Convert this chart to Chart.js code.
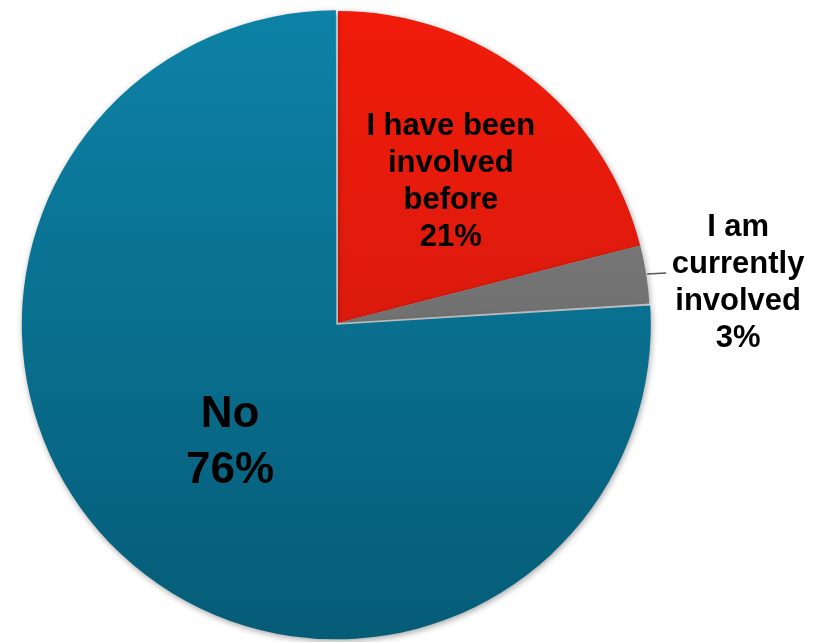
<!DOCTYPE html>
<html>
<head>
<meta charset="utf-8">
<script src="https://cdn.jsdelivr.net/npm/chart.js@4"></script>
<style>
  html, body { margin: 0; padding: 0; background: #fff; overflow: hidden; }
  #wrap { position: absolute; left: 0; top: 0; width: 827px; height: 660px; }
</style>
</head>
<body>
<div id="wrap"><canvas id="c" width="827" height="660"></canvas></div>
<script>
const categories = ['I have been involved before', 'I am currently involved', 'No'];
const values = [21, 3, 76];
const labelLines = [['I have been', 'involved', 'before'], ['I am', 'currently', 'involved'], ['No']];
const percentLabels = ['21%', '3%', '76%'];

const topColors = ['#f21b0a', '#858585', '#0d82a6'];
const bottomColors = ['#c41a10', '#5c5c5c', '#055c77'];

function sliceFill(ctx) {
  const chart = ctx.chart;
  const area = chart.chartArea;
  if (!area) return topColors[ctx.dataIndex];
  const g = chart.ctx.createLinearGradient(0, area.top, 0, area.bottom);
  g.addColorStop(0, topColors[ctx.dataIndex]);
  g.addColorStop(1, bottomColors[ctx.dataIndex]);
  return g;
}

const shadowPlugin = {
  id: 'shadow',
  beforeDatasetDraw(chart) {
    const c = chart.ctx;
    c.save();
    c.shadowColor = 'rgba(0,0,0,0.35)';
    c.shadowBlur = 6;
    c.shadowOffsetX = 1;
    c.shadowOffsetY = 2;
  },
  afterDatasetDraw(chart) {
    chart.ctx.restore();
  }
};

const FONT = '"Liberation Sans", Arial, sans-serif';

const labelPlugin = {
  id: 'sliceLabels',
  afterDatasetsDraw(chart) {
    const c = chart.ctx;
    const meta = chart.getDatasetMeta(0);
    c.save();
    c.fillStyle = '#000';
    c.textAlign = 'center';
    c.textBaseline = 'middle';
    meta.data.forEach((arc, i) => {
      const p = arc.getProps(['x', 'y', 'startAngle', 'endAngle', 'outerRadius']);
      const mid = (p.startAngle + p.endAngle) / 2;
      const lines = labelLines[i].concat([percentLabels[i]]);
      let cx, cy, lh;
      if (i === 0) {
        const d = p.outerRadius * 0.59;
        cx = p.x + Math.cos(mid) * d; cy = p.y + Math.sin(mid) * d + 4;
        c.font = 'bold 31px ' + FONT;
        lh = 37;
      } else if (i === 2) {
        const d = p.outerRadius * 0.505;
        cx = p.x + Math.cos(mid) * d; cy = p.y + Math.sin(mid) * d + 5;
        c.font = 'bold 44px ' + FONT;
        lh = 56;
      } else {
        const ox = p.x + Math.cos(mid) * (p.outerRadius + 1);
        const oy = p.y + Math.sin(mid) * (p.outerRadius + 1);
        c.strokeStyle = '#555';
        c.lineWidth = 1.5;
        c.beginPath();
        c.moveTo(ox, oy);
        c.lineTo(ox + 19, oy - 1);
        c.stroke();
        c.font = 'bold 31px ' + FONT;
        lh = 37;
        cx = ox + 91; cy = oy + 9;
      }
      lines.forEach((t, k) => c.fillText(t, cx, cy + (k - (lines.length - 1) / 2) * lh));
    });
    c.restore();
  }
};

new Chart(document.getElementById('c'), {
  type: 'pie',
  data: {
    labels: categories,
    datasets: [{
      data: values,
      backgroundColor: sliceFill,
      borderWidth: 0,
      offset: [0, 0, 10]
    }]
  },
  options: {
    responsive: false,
    animation: false,
    layout: { padding: { left: 21, right: 172, top: 6, bottom: 20 } },
    plugins: {
      legend: { display: false },
      tooltip: { enabled: false }
    }
  },
  plugins: [shadowPlugin, labelPlugin]
});
</script>
</body>
</html>
